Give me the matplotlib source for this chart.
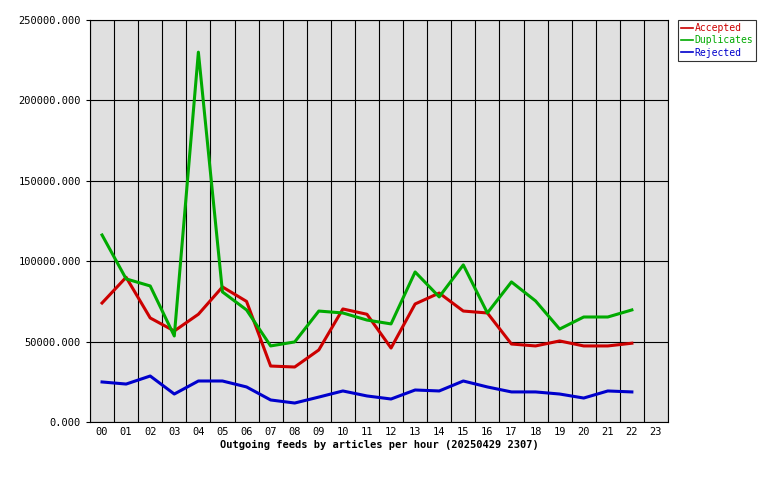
import matplotlib
matplotlib.use("Agg")
import matplotlib.pyplot as plt

hours = ["%02d" % h for h in range(24)]
accepted = [74000, 90000, 64700, 56600, 67000, 84000, 75000, 34800, 34200, 44800, 70300, 67000,
            46000, 73400, 80200, 69000, 67800, 48500, 47300, 50400, 47300, 47300, 49000]
duplicates = [116300, 89000, 84600, 53500, 230000, 80900, 69700, 47300, 49800, 69000, 67800, 63400,
              61000, 93300, 77800, 97700, 67800, 87100, 75300, 57800, 65300, 65300, 69700]
rejected = [24900, 23600, 28600, 17400, 25500, 25500, 21800, 13700, 11800, 15500, 19300, 16200,
            14300, 19900, 19300, 25500, 21800, 18700, 18700, 17400, 14900, 19300, 18700]
yticks = [0, 50000, 100000, 150000, 200000, 250000]

plt.rcParams['font.family'] = ['DejaVu Sans Mono']
fig = plt.figure(figsize=(7.8, 4.8), dpi=100)
ax = fig.add_axes([90/780, 1-422/480, 578/780, 402/480])
ax.set_facecolor('#e0e0e0')
x = list(range(len(accepted)))
ax.plot(x, accepted, color='#cc0000', lw=2.2, label='Accepted')
ax.plot(x, duplicates, color='#00aa00', lw=2.2, label='Duplicates')
ax.plot(x, rejected, color='#0000cc', lw=2.2, label='Rejected')
ax.set_xlim(-0.5, 23.5)
ax.set_ylim(0, 250000)
ax.set_xticks(range(24))
ax.set_xticklabels(hours, fontsize=7.5)
ax.set_xticks([i - 0.5 for i in range(25)], minor=True)
ax.set_yticks(yticks)
ax.set_yticklabels(["%d.000" % v for v in yticks], fontsize=7.5)
ax.grid(True, which='minor', axis='x', color='black', lw=0.8)
ax.grid(True, which='major', axis='y', color='black', lw=0.8)
ax.tick_params(axis='x', which='both', length=0)
ax.tick_params(axis='y', length=3)
ax.set_xlabel("Outgoing feeds by articles per hour (20250429 2307)", fontsize=7.5, fontweight='bold', labelpad=2)
leg = fig.legend(loc='upper left', bbox_to_anchor=(678/780, 1-20/480), fontsize=7, frameon=True,
                 fancybox=False, edgecolor='black', handlelength=1.2, borderpad=0.3, labelspacing=0.25,
                 handletextpad=0.2, labelcolor='linecolor', borderaxespad=0)
leg.get_frame().set_linewidth(0.8)
for h in leg.get_lines():
    h.set_linewidth(1.2)
fig.savefig("out.png", dpi=100)
